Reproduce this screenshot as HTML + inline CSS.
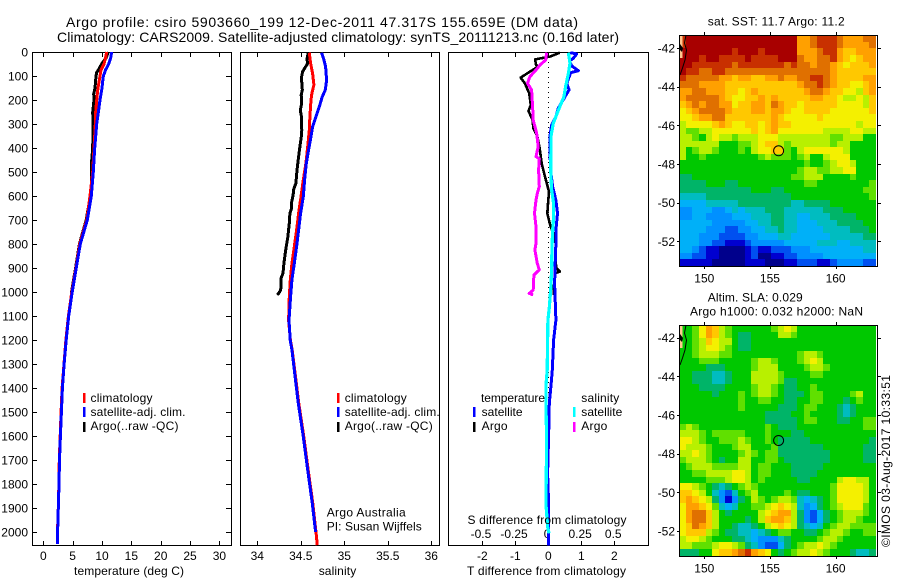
<!DOCTYPE html>
<html>
<head>
<meta charset="utf-8">
<title>Argo profile</title>
<style>
html,body{margin:0;padding:0;background:#fff;width:900px;height:580px;overflow:hidden}
svg{display:block}
text{font-family:"Liberation Sans",sans-serif;font-size:12px;fill:#000}
</style>
</head>
<body>
<svg id="fig" width="900" height="580" viewBox="0 0 900 580" xmlns="http://www.w3.org/2000/svg">
<rect x="0" y="0" width="900" height="580" fill="#fff"/>
<text x="66" y="27" style="font-size:14px" textLength="512" lengthAdjust="spacing">Argo profile: csiro 5903660_199 12-Dec-2011 47.317S 155.659E (DM data)</text>
<text x="57" y="42" style="font-size:14px" textLength="562" lengthAdjust="spacing">Climatology: CARS2009. Satellite-adjusted climatology: synTS_20111213.nc (0.16d later)</text>
<g id="plots"></g>
<g id="maps"></g>

<text x="74" y="575" textLength="110">temperature (deg C)</text>
<text x="318.7" y="575" textLength="37.5">salinity</text>
<text x="467" y="575" textLength="159">T difference from climatology</text>
<text x="467.5" y="524" textLength="159">S difference from climatology</text>

<g>
<rect x="83" y="393" width="2.5" height="10" fill="#f00"/>
<rect x="83" y="407" width="2.5" height="10" fill="#00f"/>
<rect x="83" y="422" width="2.5" height="10" fill="#000"/>
<text x="90.5" y="402" textLength="62">climatology</text>
<text x="90.5" y="416" textLength="95">satellite-adj. clim.</text>
<text x="90.5" y="430" textLength="88">Argo(..raw -QC)</text>
</g>
<g>
<rect x="337" y="393" width="2.5" height="10" fill="#f00"/>
<rect x="337" y="407" width="2.5" height="10" fill="#00f"/>
<rect x="337" y="422" width="2.5" height="10" fill="#000"/>
<text x="344.7" y="402" textLength="62">climatology</text>
<text x="344.7" y="416" textLength="95">satellite-adj. clim.</text>
<text x="344.7" y="430" textLength="88">Argo(..raw -QC)</text>
<text x="326.7" y="516.7" textLength="79">Argo Australia</text>
<text x="326.7" y="530.7" textLength="95">PI: Susan Wijffels</text>
</g>
<g>
<text x="481" y="402" textLength="64">temperature</text>
<text x="581.3" y="402" textLength="38">salinity</text>
<rect x="473" y="407" width="2.5" height="10" fill="#00f"/>
<rect x="473" y="422" width="2.5" height="10" fill="#000"/>
<rect x="573" y="407" width="2.5" height="10" fill="#0ff"/>
<rect x="573" y="422" width="2.5" height="10" fill="#f0f"/>
<text x="481.6" y="416" textLength="41">satellite</text>
<text x="481.6" y="430" textLength="26">Argo</text>
<text x="581.3" y="416" textLength="41">satellite</text>
<text x="581.3" y="430" textLength="26">Argo</text>
</g>

<text x="707.7" y="25.3" textLength="137">sat. SST: 11.7 Argo: 11.2</text>
<text x="707.7" y="301.7" textLength="95">Altim. SLA: 0.029</text>
<text x="690" y="315.7" textLength="173">Argo h1000: 0.032 h2000: NaN</text>
<text transform="translate(890 547) rotate(-90)" textLength="172">©IMOS 03-Aug-2017 10:33:51</text>
</svg>

<script>
// ---------- depth ticks ----------
const depthTicks = [0,100,200,300,400,500,600,700,800,900,1000,1100,1200,1300,1400,1500,1600,1700,1800,1900,2000];
const tempTicks = [0,5,10,15,20,25,30];
const salTicks = [34,34.5,35,35.5,36];
const tDiffTicks = [-2,-1,0,1,2];
const sDiffTicks = [-0.5,-0.25,0,0.25,0.5];
const lonTicks = [150,155,160];
const latTicks = [42,44,46,48,50,52];

// ---------- temperature profiles ----------
const tempDepthClim = [0,25,50,75,100,125,150,175,200,250,300,350,400,500,600,700,800,900,1000,1100,1200,1300,1400,1500,1600,1700,1800,1900,2000,2050];
const tempClim = [10.8,10.6,10.34,9.83,9.66,9.49,9.32,9.2,9.09,8.92,8.86,8.75,8.64,8.41,7.95,7.4,6.2,5.55,4.85,4.27,3.85,3.52,3.2,3.03,2.88,2.73,2.66,2.55,2.42,2.42];
const tempSat = [11.65,11.48,11.14,10.6,10.23,10.11,10,9.83,9.66,9.38,9.09,8.92,8.75,8.52,8.18,7.5,6.3,5.6,4.92,4.32,3.9,3.55,3.26,3.08,2.92,2.76,2.68,2.56,2.44,2.44];
const tempArgoDepth = [0,25,50,75,85,100,150,175,200,250,300,400,450,550,600,700,800,900,1000,1012];
const tempArgo = [11.08,10.68,9.94,9.38,9.09,8.98,8.8,8.58,8.64,8.41,8.47,8.41,8.24,8.24,8.01,7.3,6.15,5.5,4.8,4.75];

// ---------- salinity profiles ----------
const salClimDepth = [3,47,89,137,172,200,269,325,394,464,533,603,672,742,811,881,950,1019,1117,1200,1240,1325,1464,1603,1742,1881,2019,2055];
const salClim = [34.598,34.613,34.636,34.651,34.628,34.617,34.605,34.598,34.579,34.559,34.529,34.502,34.475,34.452,34.425,34.398,34.379,34.368,34.36,34.38,34.4,34.43,34.477,34.535,34.585,34.638,34.68,34.688];
const salSatDepth = [3,33,61,117,158,186,228,269,311,353,408,464,533,603,672,742,811,881,950,1019,1117,1200,1240,1325,1464,1603,1742,1881,2000];
const salSat = [34.739,34.766,34.785,34.797,34.782,34.747,34.713,34.674,34.636,34.617,34.59,34.563,34.544,34.529,34.498,34.475,34.452,34.425,34.398,34.383,34.364,34.378,34.398,34.425,34.471,34.529,34.579,34.632,34.67];
const salArgoDepth = [3,30,47,61,82,110,135,158,180,200,225,242,270,297,325,353,394,436,492,547,570,589,610,631,650,672,714,740,769,825,881,922,943,970,992,1003,1012];
const salArgo = [34.586,34.57,34.579,34.556,34.521,34.506,34.514,34.517,34.505,34.51,34.505,34.494,34.508,34.506,34.512,34.506,34.49,34.475,34.456,34.444,34.42,34.414,34.405,34.391,34.395,34.375,34.368,34.36,34.352,34.326,34.306,34.295,34.272,34.275,34.268,34.25,34.23];

// ---------- difference profiles ----------
const tDiffArgoDepth = [3,19,31,54,61,82,107,131,172,221,246,283,318,353,394,464,519,582,617,672,728,769,811,867,901,915,922,978,1012];
const tDiffArgo = [0.35,0.05,-0.4,-0.37,-0.3,-0.56,-0.84,-0.71,-0.58,-0.53,-0.6,-0.48,-0.45,-0.33,-0.27,-0.2,-0.1,0.02,0,-0.03,0.07,0.2,0.23,0.21,0.25,0.35,0.2,0.17,0.16];
const tDiffSatDepth = [3,8,26,38,58,78,86,131,158,186,235,269,304,353,408,492,561,617,672,742,797,881,964,1117,1200,1325,1394,1464,1603,1756,1881,2056];
const tDiffSat = [0.66,0.86,0.76,0.64,0.71,0.91,0.68,0.56,0.63,0.51,0.3,0.23,0.1,0.05,0.05,0.07,0.13,0.23,0.28,0.23,0.23,0.21,0.19,0.23,0.16,0.12,0.08,0.03,0.01,-0.02,0.01,0.01];
const sDiffArgoDepth = [3,33,54,75,103,131,158,228,283,339,394,436,445,492,561,589,617,672,728,797,825,881,908,929,992,1006,1012];
const sDiffArgo = [-0.013,-0.02,-0.063,-0.093,-0.139,-0.157,-0.126,-0.119,-0.114,-0.088,-0.076,-0.093,-0.068,-0.073,-0.068,-0.083,-0.093,-0.104,-0.093,-0.093,-0.101,-0.083,-0.068,-0.109,-0.114,-0.144,-0.114];
const sDiffSatDepth = [3,47,89,144,186,242,297,353,408,492,575,631,686,742,811,908,978,1061,1117,1325,1394,1464,1603,1756,1881,1978,2006];
const sDiffSat = [0.152,0.164,0.152,0.131,0.119,0.076,0.038,0.02,0.02,0.018,0.025,0.04,0.04,0.033,0.028,0.025,0.02,0.008,-0.003,-0.008,-0.018,-0.018,-0.013,-0.015,-0.018,-0.005,0.005];

// ---------- heatmaps (colour level per cell, rows north to south) ----------
const sstGrid = [
[14,15,15,15,15,15,15,15,15,15,15,15,15,15,15,15,15,15,12,12,13,14,14,14,13,12,12,12,13,13],
[14,15,15,15,15,15,15,15,15,15,15,15,15,15,15,15,15,15,12,12,13,14,14,14,13,12,12,12,12,13],
[15,15,15,15,15,15,15,15,14,15,15,15,14,15,15,15,15,15,12,12,12,13,14,14,12,11,11,12,12,12],
[15,15,15,14,15,15,14,14,14,14,15,14,14,14,14,15,15,15,13,12,12,13,13,14,12,11,10,11,12,12],
[15,15,14,14,14,14,14,14,13,14,14,14,14,14,14,14,13,14,13,13,12,13,13,12,11,10,11,11,11,12],
[15,14,14,13,13,14,14,13,13,13,13,13,13,13,13,13,13,13,13,13,13,13,13,12,11,11,11,11,11,11],
[14,13,13,13,13,13,12,12,11,12,12,11,11,12,12,13,12,12,13,13,14,14,13,12,11,11,11,11,12,12],
[13,13,13,12,12,12,12,11,11,11,11,11,11,11,11,11,11,11,12,13,13,14,13,12,11,11,10,10,11,12],
[12,12,13,13,12,12,12,11,11,10,11,12,11,11,11,11,11,11,11,12,13,13,12,11,11,10,10,9,11,12],
[12,13,13,13,13,13,12,11,10,10,11,11,12,11,12,11,11,11,11,11,12,12,11,11,10,9,9,10,9,11],
[11,12,13,12,13,13,12,12,10,11,11,12,12,11,13,12,11,11,10,11,11,11,11,11,10,10,10,10,9,11],
[10,11,12,13,13,13,13,12,11,11,11,12,12,11,12,12,11,10,10,11,11,11,11,10,10,10,10,10,10,11],
[10,10,11,12,12,13,13,11,11,11,11,11,11,11,12,11,10,10,10,10,10,11,10,10,10,10,10,10,10,10],
[9,10,10,10,10,11,12,11,10,10,11,11,10,11,12,11,11,10,10,10,10,10,10,10,10,10,10,9,10,10],
[9,8,8,9,9,10,10,10,10,10,10,11,10,11,12,10,10,10,10,10,10,10,9,9,9,9,10,10,9,9],
[9,9,8,7,9,10,9,9,8,9,9,9,10,10,10,9,9,9,9,9,9,9,9,8,8,9,9,9,7,7],
[9,9,9,9,9,9,7,7,7,8,8,9,10,11,11,9,8,9,9,9,9,9,9,8,9,9,7,7,7,7],
[9,7,8,9,9,8,7,7,7,8,7,9,10,10,11,11,8,7,9,10,10,10,10,10,10,9,7,7,7,7],
[9,7,7,8,7,7,7,7,7,7,7,7,8,9,8,8,8,7,8,9,7,7,9,10,10,10,7,7,7,7],
[7,7,7,7,7,7,7,7,7,7,7,7,7,7,7,7,7,7,7,8,7,7,8,9,10,10,9,7,7,7],
[7,7,7,7,7,7,7,7,7,7,7,7,7,7,7,7,7,7,8,9,9,8,8,9,9,10,10,7,7,7],
[6,6,7,7,7,7,7,7,7,7,7,7,7,7,7,7,7,8,8,9,9,9,7,7,7,7,8,7,7,7],
[6,6,6,6,7,7,7,6,6,7,7,7,7,7,7,7,7,7,7,8,8,7,7,7,7,7,7,7,7,8],
[6,6,6,6,6,6,6,6,6,6,6,7,7,7,6,6,7,7,7,7,7,7,7,7,7,7,7,7,8,8],
[5,5,5,5,6,6,6,6,6,6,6,6,6,6,6,6,6,7,7,7,7,7,7,7,7,7,7,7,7,8],
[4,4,4,4,5,5,5,5,5,6,6,6,6,6,6,6,6,5,5,6,6,6,6,7,7,7,7,7,7,7],
[3,3,4,4,4,3,3,4,5,4,5,5,5,6,6,6,5,5,5,5,5,5,6,6,6,7,7,7,7,7],
[3,3,4,4,3,3,3,3,4,4,4,5,5,5,6,6,5,5,4,4,5,5,5,6,6,6,6,7,7,7],
[4,4,4,4,4,3,3,3,3,3,4,4,5,5,6,6,5,5,4,4,4,5,5,5,6,6,6,6,7,7],
[4,4,4,4,3,3,3,2,2,3,3,4,4,5,5,6,5,5,4,4,4,4,5,5,5,5,6,6,6,7],
[4,4,4,3,3,3,2,2,2,2,3,3,4,4,4,5,5,4,4,4,4,4,4,5,5,5,5,5,6,6],
[4,4,4,3,3,2,2,1,1,1,2,3,3,3,3,3,4,4,4,4,4,5,5,5,4,4,5,5,5,5],
[4,4,3,2,1,1,0,0,0,0,1,2,1,1,2,2,2,3,3,3,4,4,4,4,4,4,4,4,5,5],
[3,3,2,2,1,1,0,0,0,0,1,2,0,0,1,1,2,2,3,3,3,3,4,4,4,4,4,4,4,4],
[1,1,1,1,1,0,0,0,0,0,1,1,1,0,0,0,1,1,2,2,2,1,1,2,3,3,3,3,2,2]
];
const slaGrid = [
[7,7,8,10,12,11,9,8,7,7,7,7,7,7,8,9,10,9,7,7,7,7,7,7,7,7,7,7,7,7],
[7,7,8,10,12,11,9,8,7,6,6,7,7,7,7,9,9,8,7,7,7,7,7,7,7,7,7,7,7,7],
[7,7,8,9,11,10,9,9,7,6,6,7,7,7,7,7,7,7,7,7,7,7,7,7,7,7,7,7,7,7],
[7,7,8,9,10,10,9,8,7,6,6,7,7,7,7,7,7,7,7,7,7,7,7,7,7,7,7,7,7,7],
[7,7,8,9,9,9,8,8,7,7,7,7,7,7,7,7,7,7,8,9,9,8,7,7,7,7,7,7,7,7],
[7,7,7,8,8,8,7,7,7,7,7,8,9,9,8,7,7,7,8,9,10,9,7,7,7,7,7,7,7,7],
[7,7,7,7,6,6,6,7,7,7,7,8,9,9,9,7,7,7,7,8,9,9,8,7,7,7,7,7,7,7],
[7,7,6,6,6,5,5,6,7,7,7,9,9,9,9,8,7,7,7,7,8,8,7,7,7,7,7,7,7,7],
[7,7,6,6,6,5,5,6,7,7,7,9,9,9,9,8,6,6,7,7,7,7,7,7,7,7,7,7,7,7],
[7,7,7,6,6,6,6,7,7,7,7,8,9,9,8,7,6,6,7,7,8,7,7,7,7,7,7,7,7,7],
[7,7,7,7,7,6,7,7,7,8,7,8,9,9,8,7,6,6,6,7,8,8,7,7,7,7,8,9,7,7],
[7,7,7,7,7,7,7,7,7,8,7,7,8,8,7,7,6,6,7,7,8,8,7,7,7,6,7,8,7,7],
[7,7,7,7,7,7,7,7,7,8,7,7,7,7,7,6,6,6,7,8,8,7,7,7,6,5,6,7,7,7],
[7,7,7,7,7,7,7,7,7,7,7,7,7,6,6,6,6,7,7,8,7,7,7,7,6,5,6,7,7,7],
[7,7,7,7,7,7,7,7,7,7,7,7,7,6,6,6,6,6,7,8,8,7,7,7,6,6,7,7,8,8],
[8,9,8,7,7,7,7,7,7,7,7,7,7,8,7,6,6,6,7,7,7,7,7,7,7,7,7,7,8,8],
[9,9,9,8,7,8,8,8,8,8,7,7,7,8,7,7,7,6,6,7,7,7,7,7,7,7,7,7,7,7],
[10,10,9,8,7,7,8,8,8,9,8,7,7,8,7,6,6,6,6,6,7,7,7,7,7,7,7,7,7,6],
[10,9,9,9,8,7,7,7,8,9,9,7,7,7,8,6,6,6,6,6,6,6,7,7,7,7,7,7,6,6],
[9,9,10,9,8,7,7,7,7,8,9,8,7,8,8,6,6,6,6,6,6,6,6,7,7,7,7,7,6,6],
[8,9,9,9,8,7,6,7,7,9,9,7,7,8,8,7,6,6,6,6,6,6,6,7,7,7,7,7,6,6],
[7,8,9,9,9,8,8,8,8,9,9,7,8,8,7,7,7,6,6,6,6,6,7,7,7,7,7,7,7,7],
[7,7,8,8,9,9,9,9,10,10,9,7,8,8,7,7,7,6,6,6,6,7,7,7,7,7,7,7,7,7],
[7,7,7,7,8,8,8,9,10,10,9,7,8,7,7,7,7,7,6,6,7,7,7,7,9,10,10,9,9,7],
[10,10,9,8,7,6,5,6,7,8,9,8,7,7,7,7,7,7,7,7,7,7,7,8,10,10,10,10,9,7],
[11,11,10,9,7,5,3,2,5,7,8,9,7,7,7,7,8,7,6,6,7,7,7,8,10,10,10,10,9,7],
[11,12,11,10,9,6,3,1,3,6,7,9,8,7,8,9,9,8,5,4,5,6,7,8,10,10,10,10,9,7],
[10,12,12,11,10,8,5,4,5,7,7,8,8,9,10,11,10,9,5,3,4,6,7,8,9,10,10,10,8,7],
[10,12,13,13,11,9,7,6,7,7,7,7,9,10,11,12,12,9,6,3,2,4,6,7,8,9,9,9,8,7],
[10,12,13,13,11,9,7,7,7,7,6,7,9,11,12,12,11,9,6,3,2,4,6,7,8,9,9,8,7,7],
[10,11,13,12,11,9,7,7,6,5,5,6,7,9,10,11,10,9,6,5,4,5,7,8,9,9,8,8,8,8],
[10,11,11,11,9,8,7,6,6,5,5,4,5,6,7,8,8,7,7,6,6,7,8,9,9,8,7,7,8,8],
[9,10,10,9,8,7,7,7,6,6,5,4,3,3,3,5,6,7,7,7,7,8,9,9,8,7,7,7,7,7],
[9,9,8,8,8,9,10,10,9,8,6,5,3,2,2,4,6,7,8,9,9,10,9,8,7,7,7,7,7,7],
[6,6,6,7,7,10,11,11,12,13,14,12,11,10,7,6,7,8,9,9,10,9,8,7,7,7,6,5,5,6]
];
const levelColors = ['#00008c','#0000d0','#0050f0','#0090ff','#00b0f8','#00bcc0','#00b468','#00c800','#60e000','#b8f000','#f4f000','#ffc800','#ffa000','#e07000','#c83000','#a80000'];
const argoLon = [155.659];
const argoLat = [47.317];
const lonOrigin = 148.1;
const latOrigin = 41.34;
const lonStep = 0.499;
const latStep = 0.341;

// ---------- drawing ----------
const NS = 'http://www.w3.org/2000/svg';
const plots = document.getElementById('plots');
const maps = document.getElementById('maps');
const yOfDepth = d => 52 + 0.24 * d;
const xTemp = t => 43.3 + 5.87 * t;
const xSal = s => 257.3 + 87 * (s - 34);
const xTD = t => 548.3 + 33 * t;
const xSD = s => 548.3 + 132.3 * s;
const xLon1 = lon => 704.3 + 13.13 * (lon - 150);
const yLat1 = lat => 48 + 19.33 * (lat - 42);
const yLat2 = lat => 337.7 + 19.33 * (lat - 42);

function drawLine(parent, x1, y1, x2, y2, name) {
  const el = document.createElementNS(NS, 'line');
  
  
  el.setAttribute('x1', x1);
  el.setAttribute('y1', y1);
  el.setAttribute('x2', x2);
  el.setAttribute('y2', y2);
  el.setAttribute('stroke', '#000');
  el.setAttribute('stroke-width', '1');
  el.setAttribute('shape-rendering', 'crispEdges');
  parent.appendChild(el);
}
function drawLabel(parent, x, y, str, anchor, name) {
  const el = document.createElementNS(NS, 'text');
  
  
  el.setAttribute('x', x);
  el.setAttribute('y', y);
  el.setAttribute('text-anchor', anchor);
  el.textContent = str;
  parent.appendChild(el);
}
function drawBox(parent, l, t, r, b, name) {
  const el = document.createElementNS(NS, 'rect');
  
  
  el.setAttribute('x', l);
  el.setAttribute('y', t);
  el.setAttribute('width', r - l);
  el.setAttribute('height', b - t);
  el.setAttribute('fill', 'none');
  el.setAttribute('stroke', '#000');
  el.setAttribute('shape-rendering', 'crispEdges');
  parent.appendChild(el);
}
function drawProfile(xs, depths, xScale, color, width, name) {
  const el = document.createElementNS(NS, 'polyline');
  
  
  el.setAttribute('points', xs.map((v, i) => xScale(v).toFixed(1) + ',' + yOfDepth(depths[i]).toFixed(1)).join(' '));
  el.setAttribute('fill', 'none');
  el.setAttribute('stroke', color);
  el.setAttribute('stroke-width', width);
  el.setAttribute('stroke-linejoin', 'round');
  el.setAttribute('shape-rendering', 'crispEdges');
  plots.appendChild(el);
}
function fmt(v) { return String(v); }

// panel 1
drawBox(plots, 32.5, 52.5, 231.5, 545.5, 'temperature-axes-box');
tempTicks.forEach(t => {
  const x = Math.round(xTemp(t)) + 0.5;
  drawLine(plots, x, 52, x, 57, 'temperature-top-tick');
  drawLine(plots, x, 541, x, 545, 'temperature-bottom-tick');
  drawLabel(plots, xTemp(t), 560, fmt(t), 'middle', 'temperature-tick-label');
});
depthTicks.forEach(d => {
  const y = Math.round(yOfDepth(d)) + 0.5;
  drawLine(plots, 32, y, 37, y, 'depth-left-tick');
  drawLine(plots, 226, y, 231, y, 'depth-right-tick');
  drawLabel(plots, 28, yOfDepth(d) + 4.5, fmt(d), 'end', 'depth-tick-label');
});
drawProfile(tempArgo, tempArgoDepth, xTemp, '#000', 3, 'temperature-argo-line');
drawProfile(tempClim, tempDepthClim, xTemp, '#f00', 3, 'temperature-climatology-line');
drawProfile(tempSat, tempDepthClim, xTemp, '#00f', 3, 'temperature-satellite-line');

// panel 2
drawBox(plots, 240.5, 52.5, 439.5, 545.5, 'salinity-axes-box');
salTicks.forEach(s => {
  const x = Math.round(xSal(s)) + 0.5;
  drawLine(plots, x, 52, x, 57, 'salinity-top-tick');
  drawLine(plots, x, 541, x, 545, 'salinity-bottom-tick');
  drawLabel(plots, xSal(s), 560, fmt(s), 'middle', 'salinity-tick-label');
});
drawProfile(salArgo, salArgoDepth, xSal, '#000', 3, 'salinity-argo-line');
drawProfile(salClim, salClimDepth, xSal, '#f00', 3, 'salinity-climatology-line');
drawProfile(salSat, salSatDepth, xSal, '#00f', 3, 'salinity-satellite-line');

// panel 3
drawBox(plots, 448.5, 52.5, 648.5, 545.5, 'difference-axes-box');
tDiffTicks.forEach(t => {
  const x = Math.round(xTD(t)) + 0.5;
  drawLine(plots, x, 52, x, 57, 'difference-top-tick');
  drawLine(plots, x, 541, x, 545, 'difference-bottom-tick');
  drawLabel(plots, xTD(t), 560, fmt(t), 'middle', 't-difference-tick-label');
});
sDiffTicks.forEach(s => {
  drawLabel(plots, xSD(s) - 1.2, 538, fmt(s), 'middle', 's-difference-tick-label');
});
const zero = document.createElementNS(NS, 'line');


zero.setAttribute('x1', Math.round(xTD(0)) + 0.5);
zero.setAttribute('x2', Math.round(xTD(0)) + 0.5);
zero.setAttribute('y1', 52);
zero.setAttribute('y2', 545);
zero.setAttribute('stroke', '#000');
zero.setAttribute('stroke-dasharray', '1 4');
zero.setAttribute('shape-rendering', 'crispEdges');
plots.appendChild(zero);
drawProfile(tDiffArgo, tDiffArgoDepth, xTD, '#000', 2.6, 't-difference-argo-line');
drawProfile(tDiffSat, tDiffSatDepth, xTD, '#00f', 3, 't-difference-satellite-line');
drawProfile(sDiffArgo, sDiffArgoDepth, xSD, '#f0f', 3, 's-difference-argo-line');
drawProfile(sDiffSat, sDiffSatDepth, xSD, '#0ff', 3.2, 's-difference-satellite-line');

// maps
function drawMap(grid, yLat, top, bottom, prefix) {
  const left = 679.5, right = 877.5;
  grid.forEach((row, r) => {
    row.forEach((lvl, c) => {
      const lon0 = lonOrigin + c * lonStep;
      const lat0 = latOrigin + r * latStep;
      const el = document.createElementNS(NS, 'rect');
      
      
      const x1 = Math.round(xLon1(lon0));
      const x2 = Math.round(xLon1(lon0 + lonStep));
      const y1 = Math.round(yLat(lat0));
      const y2 = Math.round(yLat(lat0 + latStep));
      el.setAttribute('x', x1);
      el.setAttribute('y', y1);
      el.setAttribute('width', x2 - x1);
      el.setAttribute('height', y2 - y1);
      el.setAttribute('fill', levelColors[lvl]);
      el.setAttribute('shape-rendering', 'crispEdges');
      maps.appendChild(el);
    });
  });
  const land = document.createElementNS(NS, 'rect');
  
  
  land.setAttribute('x', 680);
  land.setAttribute('y', top);
  land.setAttribute('width', 2.5);
  land.setAttribute('height', 23);
  land.setAttribute('fill', '#ffc890');
  maps.appendChild(land);
  const coast = document.createElementNS(NS, 'path');
  
  
  coast.setAttribute('d', 'M686 ' + top + ' L684.5 ' + (top + 8) + ' L686.5 ' + (top + 15) + ' L685 ' + (top + 25) + ' L682.5 ' + (top + 33) + ' L680 ' + (top + 40));
  coast.setAttribute('fill', 'none');
  coast.setAttribute('stroke', '#000');
  coast.setAttribute('stroke-width', '1');
  maps.appendChild(coast);
  const dot = document.createElementNS(NS, 'path');
  
  
  dot.setAttribute('d', 'M680 ' + (top + 9) + ' L683 ' + (top + 13) + ' L682 ' + (top + 17) + ' L680 ' + (top + 15) + ' Z');
  dot.setAttribute('fill', '#000');
  maps.appendChild(dot);
  drawBox(maps, left, top + 0.5, right, bottom + 0.5, prefix + '-axes-box');
  lonTicks.forEach(lon => {
    const x = Math.round(xLon1(lon)) + 0.5;
    drawLine(maps, x, top - 3, x, top, prefix + '-top-tick');
    drawLine(maps, x, bottom, x, bottom + 3, prefix + '-bottom-tick');
    drawLabel(maps, xLon1(lon), bottom + 16.5, fmt(lon), 'middle', prefix + '-longitude-label');
  });
  latTicks.forEach(lat => {
    const y = Math.round(yLat(lat)) + 0.5;
    drawLine(maps, 677, y, 680, y, prefix + '-left-tick');
    drawLine(maps, 878, y, 881, y, prefix + '-right-tick');
    drawLabel(maps, 675, yLat(lat) + 4.5, '-' + lat, 'end', prefix + '-latitude-label');
  });
  const mk = document.createElementNS(NS, 'circle');
  
  
  mk.setAttribute('cx', xLon1(argoLon[0]));
  mk.setAttribute('cy', yLat(argoLat[0]));
  mk.setAttribute('r', 5);
  mk.setAttribute('fill', 'none');
  mk.setAttribute('stroke', '#000');
  maps.appendChild(mk);
}
drawMap(sstGrid, yLat1, 35, 266, 'sst-map');
drawMap(slaGrid, yLat2, 325, 556, 'sla-map');
</script>
</body>
</html>
